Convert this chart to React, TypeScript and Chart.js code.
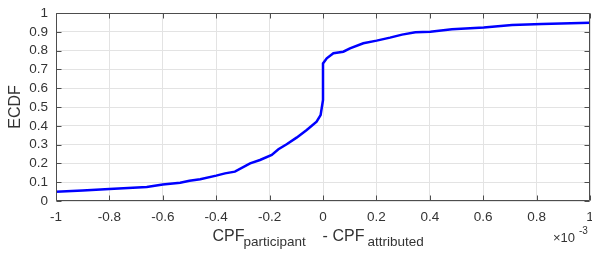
import React, { useEffect, useRef } from "react";
import { Chart, registerables } from "chart.js";

Chart.register(...registerables);

// x values are in units of 1e-3 (axis shows a ×10^-3 multiplier)
const X_VALUES = [
  -1.0, -0.9, -0.8, -0.66, -0.6, -0.535, -0.5, -0.46, -0.4, -0.367, -0.33,
  -0.273, -0.236, -0.192, -0.167, -0.136, -0.099, -0.061, -0.024, -0.009,
  0.0, 0.0, 0.014, 0.039, 0.076, 0.101, 0.151, 0.201, 0.251, 0.296, 0.346,
  0.402, 0.483, 0.602, 0.708, 0.82, 1.0,
];
const ECDF_VALUES = [
  0.049, 0.056, 0.064, 0.074, 0.088, 0.097, 0.108, 0.116, 0.135, 0.147, 0.156,
  0.2, 0.218, 0.245, 0.275, 0.302, 0.337, 0.378, 0.422, 0.457,
  0.537, 0.732, 0.759, 0.786, 0.794, 0.812, 0.839, 0.853, 0.869, 0.885, 0.897,
  0.9, 0.913, 0.923, 0.936, 0.941, 0.948,
];
const X_TICKS = [-1, -0.8, -0.6, -0.4, -0.2, 0, 0.2, 0.4, 0.6, 0.8, 1];
const Y_TICKS = [0, 0.1, 0.2, 0.3, 0.4, 0.5, 0.6, 0.7, 0.8, 0.9, 1];

const FONT = "'Liberation Sans', Arial, Helvetica, sans-serif";
const AXIS_COLOR = "#4d4d4d";
const TEXT_COLOR = "#333333";
const GRID_COLOR = "#e3e3e3";

const fmt = (v: number) => String(Number(v.toFixed(1)));

const decorPlugin = {
  id: "matlabDecor",
  afterDraw(chart: any) {
    const ctx = chart.ctx as CanvasRenderingContext2D;
    const { left, right, top, bottom } = chart.chartArea;
    const xs = chart.scales.x;
    const ys = chart.scales.y;
    ctx.save();
    // box
    ctx.strokeStyle = AXIS_COLOR;
    ctx.lineWidth = 1;
    const L = Math.round(left) + 0.5;
    const R = Math.round(right) - 0.5;
    const T = Math.round(top) + 0.5;
    const B = Math.round(bottom) - 0.5;
    ctx.beginPath();
    ctx.rect(L, T, R - L, B - T);
    ctx.stroke();
    // inward ticks
    const tl = 5;
    ctx.beginPath();
    X_TICKS.forEach((v) => {
      const px = Math.round(xs.getPixelForValue(v)) + 0.5;
      ctx.moveTo(px, B);
      ctx.lineTo(px, B - tl);
      ctx.moveTo(px, T);
      ctx.lineTo(px, T + tl);
    });
    Y_TICKS.forEach((v) => {
      const py = Math.round(ys.getPixelForValue(v)) + 0.5;
      ctx.moveTo(L, py);
      ctx.lineTo(L + tl, py);
      ctx.moveTo(R, py);
      ctx.lineTo(R - tl, py);
    });
    ctx.stroke();

    // y label
    ctx.fillStyle = TEXT_COLOR;
    ctx.textAlign = "center";
    ctx.textBaseline = "alphabetic";
    ctx.save();
    ctx.translate(20, (top + bottom) / 2);
    ctx.rotate(-Math.PI / 2);
    ctx.font = `16px ${FONT}`;
    ctx.fillText("ECDF", 0, 0);
    ctx.restore();

    // x label with subscripts
    ctx.textAlign = "left";
    ctx.font = `16px ${FONT}`;
    ctx.fillText("CPF", 212.5, 241);
    ctx.font = `13.5px ${FONT}`;
    ctx.fillText("participant", 243.5, 245.5);
    ctx.font = `16px ${FONT}`;
    ctx.fillText("-", 322.5, 241);
    ctx.fillText("CPF", 332.5, 241);
    ctx.font = `13.5px ${FONT}`;
    ctx.fillText("attributed", 367.5, 245.5);

    // exponent marker
    ctx.font = `13px ${FONT}`;
    ctx.fillText("\u00d710", 553, 242);
    ctx.font = `10px ${FONT}`;
    ctx.fillText("-3", 579, 234);
    ctx.restore();
  },
};

export default function App() {
  const ref = useRef<HTMLCanvasElement | null>(null);
  useEffect(() => {
    document.body.style.margin = "0";
    if (!ref.current) return;
    const data = X_VALUES.map((x, i) => ({ x, y: ECDF_VALUES[i] }));
    const chart = new Chart(ref.current, {
      type: "line",
      data: {
        datasets: [
          {
            data,
            borderColor: "#0000ff",
            borderWidth: 2.5,
            pointRadius: 0,
            tension: 0,
            fill: false,
          },
        ],
      },
      options: {
        animation: false,
        responsive: false,
        devicePixelRatio: 1,
        layout: { padding: { top: 13, right: 2, left: 0, bottom: 0 } },
        plugins: {
          legend: { display: false },
          tooltip: { enabled: false },
        },
        scales: {
          x: {
            type: "linear",
            min: -1,
            max: 1,
            afterBuildTicks: (s: any) => {
              s.ticks = X_TICKS.map((v) => ({ value: v }));
            },
            afterFit: (s: any) => {
              s.height = 52;
              s.paddingLeft = 0;
              s.paddingRight = 0;
            },
            grid: { color: GRID_COLOR, drawTicks: false, lineWidth: 1 },
            border: { display: false },
            ticks: {
              autoSkip: false,
              maxRotation: 0,
              padding: 8,
              color: TEXT_COLOR,
              font: { family: FONT, size: 13.5 },
              callback: (v: any) => fmt(Number(v)),
            },
          },
          y: {
            type: "linear",
            min: 0,
            max: 1,
            afterBuildTicks: (s: any) => {
              s.ticks = Y_TICKS.map((v) => ({ value: v }));
            },
            afterFit: (s: any) => {
              s.width = 56;
              s.paddingTop = 0;
              s.paddingBottom = 0;
            },
            grid: { color: GRID_COLOR, drawTicks: false, lineWidth: 1 },
            border: { display: false },
            ticks: {
              autoSkip: false,
              padding: 8,
              color: TEXT_COLOR,
              font: { family: FONT, size: 13.5 },
              callback: (v: any) => fmt(Number(v)),
            },
          },
        },
      },
      plugins: [decorPlugin],
    });
    return () => chart.destroy();
  }, []);
  return (
    <div style={{ position: "absolute", left: 0, top: 0, width: 592, height: 253 }}>
      <canvas ref={ref} width={592} height={253} style={{ display: "block" }} />
    </div>
  );
}
